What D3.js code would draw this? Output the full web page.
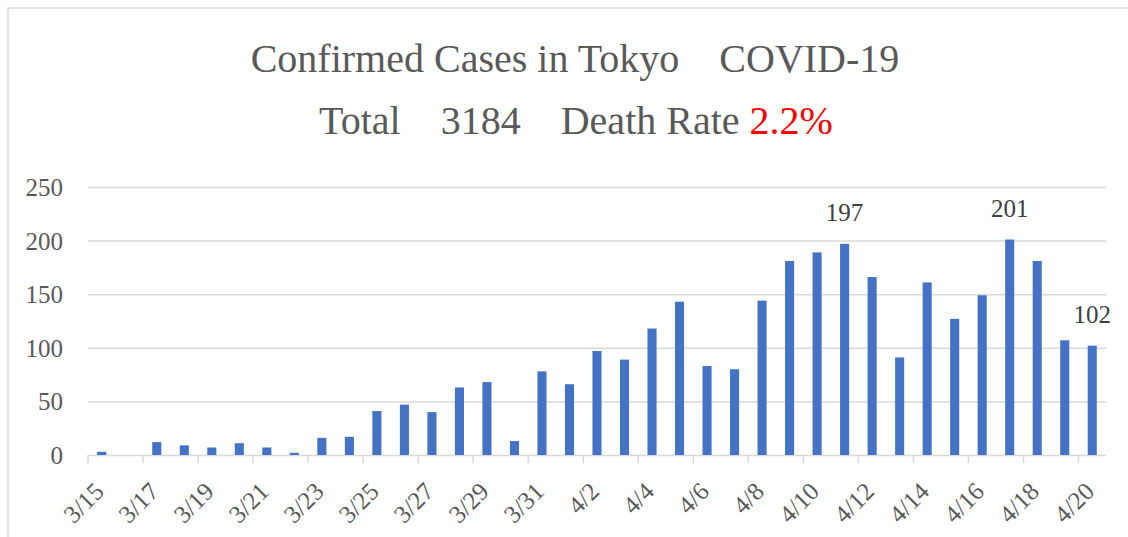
<!DOCTYPE html>
<html>
<head>
<meta charset="utf-8">
<script src="https://cdn.jsdelivr.net/npm/d3@7"></script>
<style>
  body { margin: 0; background: #fff; }
  svg text { font-family: "Liberation Serif", "DejaVu Serif", serif; }
</style>
</head>
<body>
<svg id="chart" width="1128" height="537"></svg>
<script>
const dates = [
  "3/15", "3/16", "3/17", "3/18", "3/19", "3/20", "3/21", "3/22", "3/23", "3/24",
  "3/25", "3/26", "3/27", "3/28", "3/29", "3/30", "3/31", "4/1", "4/2", "4/3",
  "4/4", "4/5", "4/6", "4/7", "4/8", "4/9", "4/10", "4/11", "4/12", "4/13",
  "4/14", "4/15", "4/16", "4/17", "4/18", "4/19", "4/20",
];
const cases = [
  3, 0, 12, 9, 7, 11, 7, 2, 16, 17,
  41, 47, 40, 63, 68, 13, 78, 66, 97, 89,
  118, 143, 83, 80, 144, 181, 189, 197, 166, 91,
  161, 127, 149, 201, 181, 107, 102,
];
const tickDates = [
  "3/15", "3/17", "3/19", "3/21", "3/23", "3/25", "3/27", "3/29", "3/31",
  "4/2", "4/4", "4/6", "4/8", "4/10", "4/12", "4/14", "4/16", "4/18", "4/20",
];
const yTicks = [0, 50, 100, 150, 200, 250];
const labeledDates = ["4/11", "4/17", "4/20"];
const titleLine1 = "Confirmed Cases in Tokyo\u3000COVID-19";
const titleLine2 = "Total\u30003184\u3000Death Rate ";
const deathRate = "2.2%";

const width = 1128,
  height = 537;
const plotLeft = 88,
  plotRight = 1106,
  plotTop = 187,
  plotBottom = 455;

const serif = "'Liberation Serif', 'DejaVu Serif', serif";
const gridColor = "#d9d9d9";
const textColor = "#595959";

const svg = d3.select("#chart");
const data = dates.map((d, i) => ({ date: d, value: cases[i] }));

svg.append("rect").attr("width", width).attr("height", height).attr("fill", "#fff");

// chart area border (only left and top show in the crop)
svg
  .append("path")
  .attr("d", `M8,${height} V8 H${width}`)
  .attr("fill", "none")
  .attr("stroke", gridColor)
  .attr("stroke-width", 1.5);

const x = d3
  .scaleBand()
  .domain(dates)
  .range([plotLeft, plotRight])
  .paddingInner(0.67)
  .paddingOuter(0.335);

const y = d3.scaleLinear().domain([0, 250]).range([plotBottom, plotTop]);

// y axis with gridlines
const yAxis = svg
  .append("g")
  .attr("transform", `translate(${plotLeft},0)`)
  .call(
    d3
      .axisLeft(y)
      .tickValues(yTicks)
      .tickSize(-(plotRight - plotLeft))
      .tickPadding(25)
  );
yAxis.select(".domain").remove();
yAxis.selectAll(".tick line").attr("stroke", gridColor).attr("stroke-width", 1.5);
yAxis
  .selectAll(".tick text")
  .attr("fill", textColor)
  .attr("font-size", 25)
  .attr("font-family", serif)
  .attr("dy", "0.34em");

// x axis tick marks sit on category boundaries
const tickMarks = tickDates.map((d) => x(d) - (x.step() * x.paddingInner()) / 2);
svg
  .append("g")
  .selectAll("line")
  .data(tickMarks)
  .enter()
  .append("line")
  .attr("x1", (d) => d)
  .attr("x2", (d) => d)
  .attr("y1", plotBottom)
  .attr("y2", plotBottom + 8)
  .attr("stroke", gridColor)
  .attr("stroke-width", 1.5);

const xAxis = svg
  .append("g")
  .attr("transform", `translate(0,${plotBottom})`)
  .call(d3.axisBottom(x).tickValues(tickDates).tickSize(0));
xAxis.select(".domain").remove();
xAxis
  .selectAll(".tick text")
  .attr("fill", textColor)
  .attr("font-size", 25)
  .attr("font-family", serif)
  .attr("text-anchor", "end")
  .attr("x", null)
  .attr("y", null)
  .attr("dy", null)
  .attr("transform", "translate(3.5,38) rotate(-45)");

// bars
svg
  .append("g")
  .selectAll("rect")
  .data(data)
  .enter()
  .append("rect")
  .attr("x", (d) => x(d.date))
  .attr("y", (d) => y(d.value))
  .attr("width", x.bandwidth())
  .attr("height", (d) => y(0) - y(d.value))
  .attr("fill", "#4472C4");

// data labels on a few bars
svg
  .append("g")
  .selectAll("text")
  .data(data.filter((d) => labeledDates.includes(d.date)))
  .enter()
  .append("text")
  .attr("x", (d) => x(d.date) + x.bandwidth() / 2)
  .attr("y", (d) => y(d.value) - 23)
  .attr("text-anchor", "middle")
  .attr("font-size", 25)
  .attr("font-family", serif)
  .attr("fill", "#404040")
  .text((d) => d.value);

// title
svg
  .append("text")
  .attr("x", 575)
  .attr("y", 72)
  .attr("text-anchor", "middle")
  .attr("font-size", 40)
  .attr("font-family", serif)
  .attr("fill", textColor)
  .text(titleLine1);

const t2 = svg
  .append("text")
  .attr("x", 576)
  .attr("y", 134)
  .attr("text-anchor", "middle")
  .attr("font-size", 40)
  .attr("font-family", serif)
  .attr("fill", textColor);
t2.append("tspan").text(titleLine2);
t2.append("tspan").attr("fill", "#ff0000").text(deathRate);
</script>
</body>
</html>
